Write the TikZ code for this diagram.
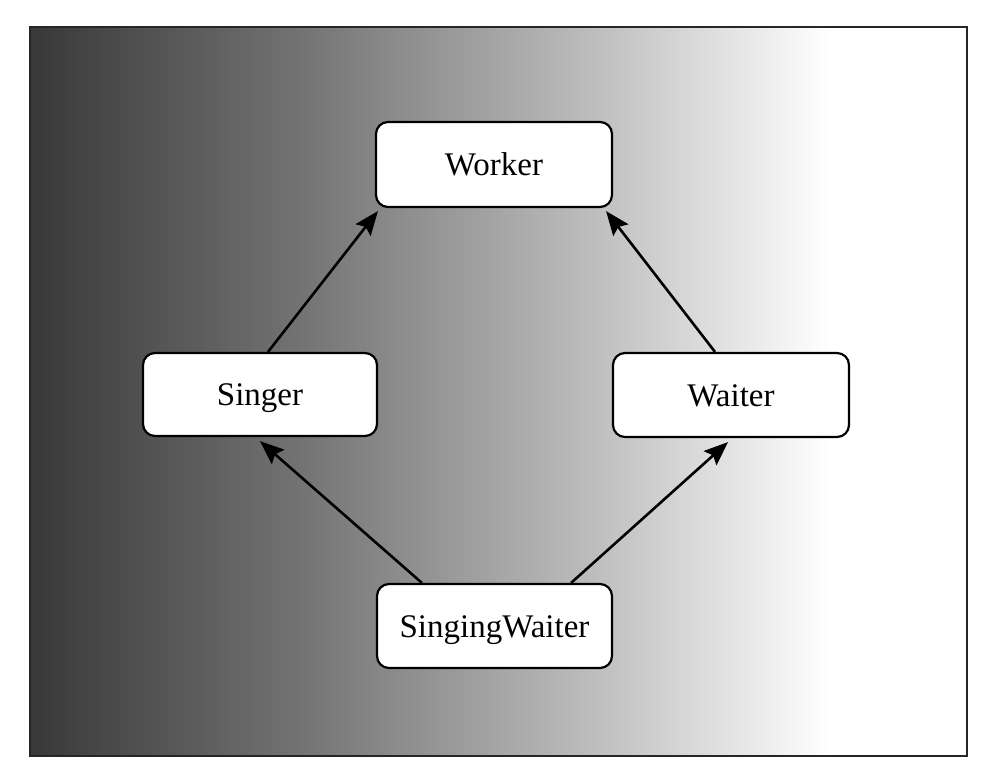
\documentclass[tikz,border=0pt]{standalone}
\usepackage{fontspec}
\setmainfont{Liberation Serif}
\usetikzlibrary{arrows.meta}
\begin{document}
\begin{tikzpicture}[x=1pt,y=-1pt,
  classbox/.style={draw=black, line width=2.2pt, fill=white, rounded corners=12pt,
    inner sep=0pt, text height=22pt, text depth=0pt,
    font=\fontsize{33}{38}\selectfont},
  arr/.style={line width=2.6pt, -{Stealth[length=24pt,width=19pt,inset=4pt]}}]
\useasboundingbox (0,0) rectangle (990,778);
% background gradient
\fill[left color=black!78, right color=black!55] (30,27) rectangle (300,756);
\fill[left color=black!55, right color=black!25] (299.5,27) rectangle (600,756);
\fill[left color=black!25, right color=white] (599.5,27) rectangle (830,756);
\fill[white] (829.5,27) rectangle (967,756);
\draw[line width=2.2pt, black!85] (30,27) rectangle (967,756);
% nodes
\node[classbox, minimum width=236pt, minimum height=85pt] (w) at (494,164.5) {Worker};
\node[classbox, minimum width=234pt, minimum height=83pt] (s) at (260,394.5) {Singer};
\node[classbox, minimum width=236pt, minimum height=84pt] (wt) at (731,395) {Waiter};
\node[classbox, minimum width=235pt, minimum height=84pt] (sw) at (494.5,626) {SingingWaiter};
% connectors
\draw[arr] ([xshift=8pt]s.north) -- ([xshift=3pt,yshift=-3pt]w.south west);
\draw[arr] ([xshift=-16pt]wt.north) -- ([xshift=-7pt,yshift=-3pt]w.south east);
\draw[arr] ([xshift=46pt]sw.north west) -- ([yshift=-4pt]s.south);
\draw[arr] ([xshift=-42pt]sw.north east) -- ([xshift=-3pt,yshift=-4pt]wt.south);
\end{tikzpicture}
\end{document}
